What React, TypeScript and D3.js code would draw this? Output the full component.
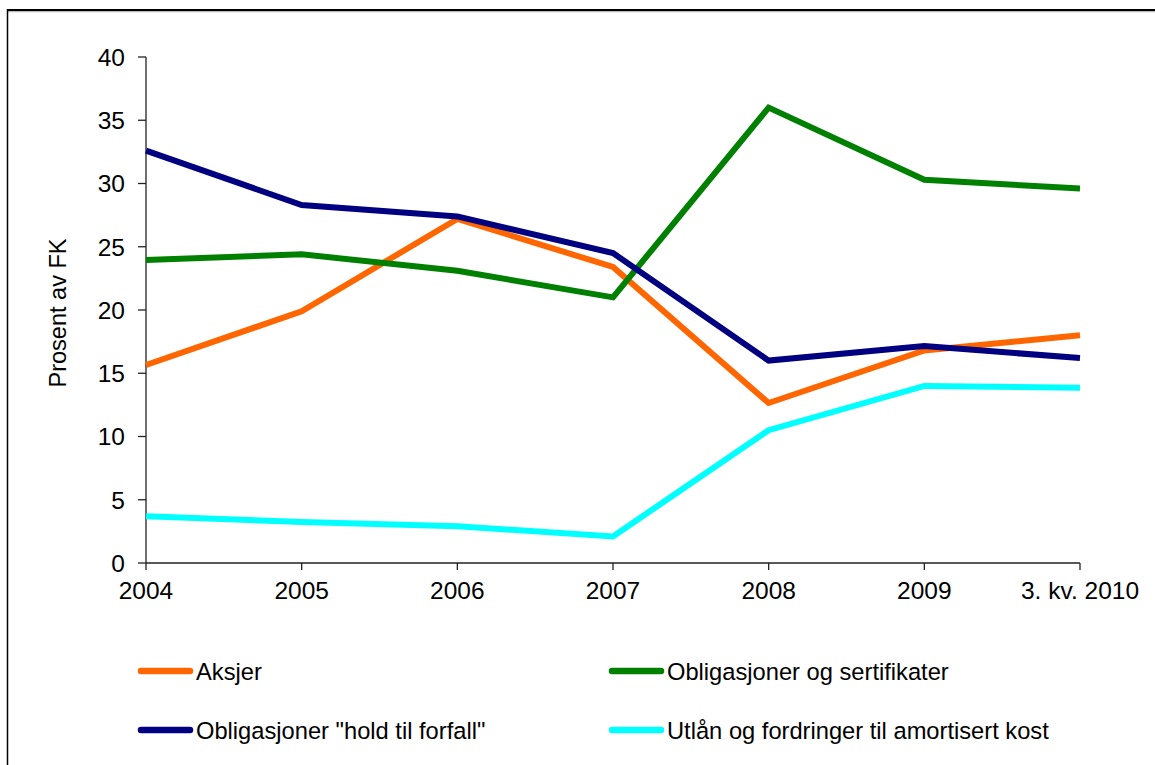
import React from "react";
import * as d3 from "d3";

const categories = ["2004", "2005", "2006", "2007", "2008", "2009", "3. kv. 2010"];
const aksjer = [15.65, 19.9, 27.2, 23.4, 12.65, 16.8, 18.0];
const obligasjonerSert = [23.95, 24.4, 23.1, 21.0, 36.0, 30.3, 29.6];
const obligasjonerHold = [32.6, 28.3, 27.4, 24.5, 16.0, 17.15, 16.2];
const utlan = [3.7, 3.25, 2.9, 2.1, 10.5, 14.0, 13.85];
const yTicks = [0, 5, 10, 15, 20, 25, 30, 35, 40];

const seriesNames = [
  "Aksjer",
  "Obligasjoner og sertifikater",
  'Obligasjoner "hold til forfall"',
  "Utlån og fordringer til amortisert kost",
];
const seriesColors = ["#FF6600", "#008000", "#000080", "#00FFFF"];
const seriesData = [aksjer, obligasjonerSert, obligasjonerHold, utlan];

const FONT = "'Liberation Sans', Arial, sans-serif";

export default function App() {
  const W = 1155;
  const H = 765;
  const x0 = 146;
  const x1 = 1080;
  const yTop = 57;
  const yBot = 563;

  const x = d3.scalePoint<string>().domain(categories).range([x0, x1]);
  const y = d3.scaleLinear().domain([0, 40]).range([yBot, yTop]);

  const line = d3
    .line<number>()
    .x((_, i) => x(categories[i]) as number)
    .y((d) => y(d));

  const order = [3, 0, 1, 2];

  const legendPos = [
    { lx: 138, ly: 671 },
    { lx: 609, ly: 671 },
    { lx: 138, ly: 730 },
    { lx: 609, ly: 730 },
  ];

  return (
    <svg
      width={W}
      height={H}
      style={{ position: "absolute", left: 0, top: 0, background: "#fff" }}
      fontFamily={FONT}
    >
      <rect x={0} y={0} width={W} height={H} fill="#fff" />
      <line x1={7} y1={11.5} x2={W} y2={11.5} stroke="#bbb" strokeWidth={1.5} />
      <line x1={7} y1={10} x2={W} y2={10} stroke="#000" strokeWidth={1.8} />
      <line x1={7.5} y1={9} x2={7.5} y2={H} stroke="#000" strokeWidth={1.5} />

      <line x1={x0} y1={yTop} x2={x0} y2={yBot} stroke="#222" strokeWidth={1.3} />
      {yTicks.map((t) => (
        <g key={t}>
          <line x1={x0 - 8} x2={x0} y1={y(t)} y2={y(t)} stroke="#222" strokeWidth={1.3} />
          <text x={125} y={y(t)} dy="0.36em" textAnchor="end" fontSize={24.5} fill="#000">
            {t}
          </text>
        </g>
      ))}
      <line x1={x0} y1={yBot} x2={x1} y2={yBot} stroke="#222" strokeWidth={1.3} />
      {categories.map((c) => (
        <g key={c}>
          <line
            x1={x(c) as number}
            x2={x(c) as number}
            y1={yBot}
            y2={yBot + 7}
            stroke="#222"
            strokeWidth={1.3}
          />
          <text x={x(c) as number} y={599} textAnchor="middle" fontSize={24.5} fill="#000">
            {c}
          </text>
        </g>
      ))}

      <text
        transform={`translate(66, 313) rotate(-90)`}
        textAnchor="middle"
        fontSize={23.5}
        fill="#000"
      >
        Prosent av FK
      </text>

      {order.map((si) => (
        <path
          key={si}
          d={line(seriesData[si]) || ""}
          fill="none"
          stroke={seriesColors[si]}
          strokeWidth={6}
          strokeLinejoin="miter"
        />
      ))}

      {seriesNames.map((n, i) => (
        <g key={n}>
          <line
            x1={legendPos[i].lx + 3}
            x2={legendPos[i].lx + 52}
            y1={legendPos[i].ly}
            y2={legendPos[i].ly}
            stroke={seriesColors[i]}
            strokeWidth={6.5}
            strokeLinecap="round"
          />
          <text x={legendPos[i].lx + 58} y={legendPos[i].ly} dy="0.36em" fontSize={23.7} fill="#000">
            {n}
          </text>
        </g>
      ))}
    </svg>
  );
}
